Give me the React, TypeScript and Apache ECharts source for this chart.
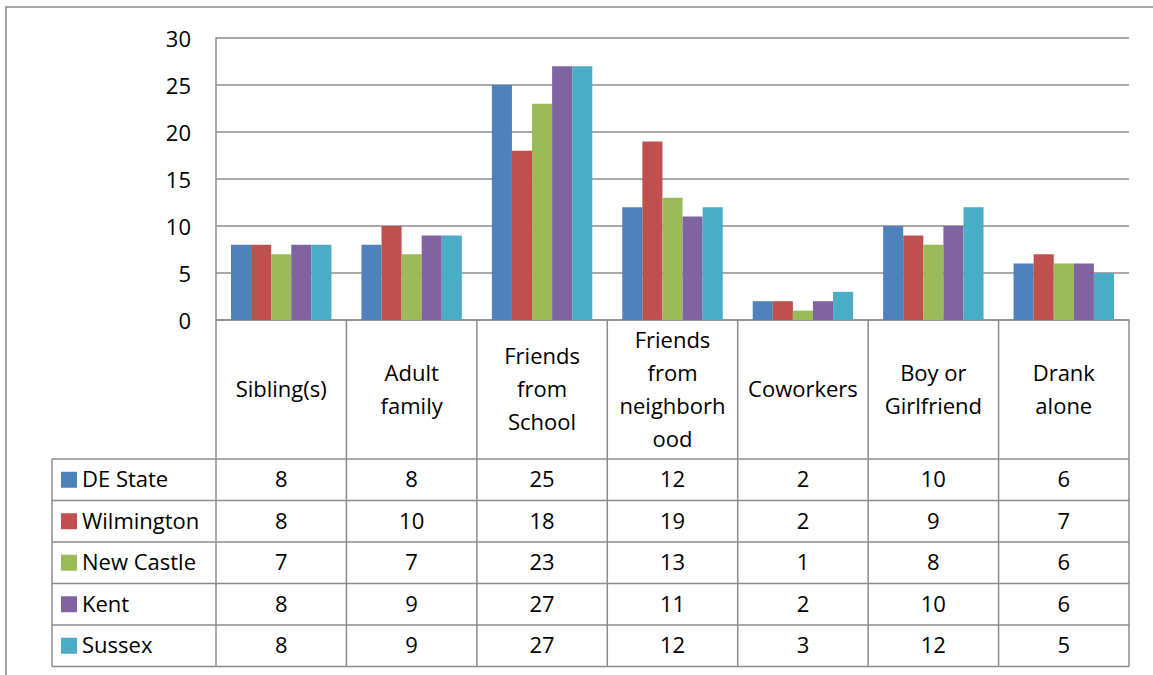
import React, { useEffect, useRef } from "react";
import * as echarts from "echarts";

const categoryLabels = [
  "Sibling(s)",
  "Adult\nfamily",
  "Friends\nfrom\nSchool",
  "Friends\nfrom\nneighborh\nood",
  "Coworkers",
  "Boy or\nGirlfriend",
  "Drank\nalone",
];
const seriesNames = ["DE State", "Wilmington", "New Castle", "Kent", "Sussex"];
const seriesColors = ["#4F81BD", "#C0504D", "#9BBB59", "#8064A2", "#4BACC6"];
const deState = [8, 8, 25, 12, 2, 10, 6];
const wilmington = [8, 10, 18, 19, 2, 9, 7];
const newCastle = [7, 7, 23, 13, 1, 8, 6];
const kent = [8, 9, 27, 11, 2, 10, 6];
const sussex = [8, 9, 27, 12, 3, 12, 5];
const seriesValues = [deState, wilmington, newCastle, kent, sussex];
const yMin = 0;
const yMax = 30;
const yInterval = 5;

const FONT = '"Open Sans", "Noto Sans", sans-serif';
const FS = 22;
const LINE = "#8c8c8c";

export default function App() {
  const ref = useRef<HTMLDivElement>(null);
  useEffect(() => {
    document.body.style.margin = "0";
    const chart = echarts.init(ref.current!, null, { renderer: "svg" });
    const grid = { left: 216, top: 38, width: 913, height: 282 };
    chart.setOption({
      animation: false,
      grid: { ...grid },
      xAxis: {
        type: "category",
        data: categoryLabels,
        axisLine: { show: true, lineStyle: { color: LINE, width: 1.5 } },
        axisTick: { show: false },
        axisLabel: { show: false },
      },
      yAxis: {
        type: "value",
        min: yMin,
        max: yMax,
        interval: yInterval,
        axisLine: { show: true, lineStyle: { color: LINE, width: 1.5 } },
        axisTick: { show: false },
        axisLabel: { color: "#000", fontSize: FS, fontFamily: FONT, margin: 25, padding: [0, 0, 2, 0] },
        splitLine: { lineStyle: { color: LINE, width: 1.5 } },
      },
      series: seriesNames.map((name, i) => ({
        name,
        type: "bar",
        data: seriesValues[i],
        barGap: "0%",
        barCategoryGap: "23%",
        itemStyle: { color: seriesColors[i] },
      })),
    });

    const n = categoryLabels.length;
    const colW = grid.width / n;
    const zeroY = chart.convertToPixel({ yAxisIndex: 0 }, 0) as number;
    const tableTop = 459;
    const rowH = 41.5;
    const tableBottom = tableTop + rowH * seriesNames.length;
    const tableLeft = 52;
    const right = grid.left + grid.width;
    const dy = -1.5;
    const els: any[] = [];
    const line = (x1: number, y1: number, x2: number, y2: number) =>
      els.push({
        type: "line",
        shape: { x1, y1, x2, y2 },
        style: { stroke: LINE, lineWidth: 1.5 },
        z: 10,
      });
    els.push({
      type: "rect",
      shape: { x: 6, y: 7, width: 1300, height: 800 },
      style: { fill: "none", stroke: LINE, lineWidth: 1.5 },
    });
    for (let c = 0; c <= n; c++) {
      const x = grid.left + c * colW;
      line(x, zeroY, x, tableBottom);
    }
    line(tableLeft, tableTop, tableLeft, tableBottom);
    for (let r = 0; r <= seriesNames.length; r++) {
      const y = tableTop + r * rowH;
      line(tableLeft, y, right, y);
    }
    const labelMid = (zeroY + tableTop) / 2 + dy;
    categoryLabels.forEach((lab, c) => {
      const cx = chart.convertToPixel({ xAxisIndex: 0 }, c) as number;
      els.push({
        type: "text",
        x: cx,
        y: labelMid,
        style: {
          text: lab,
          textAlign: "center",
          textVerticalAlign: "middle",
          font: `${FS}px ${FONT}`,
          lineHeight: 33,
          fill: "#000",
        },
      });
      seriesValues.forEach((vals, r) => {
        els.push({
          type: "text",
          x: cx,
          y: tableTop + rowH * (r + 0.5) + dy,
          style: {
            text: String(vals[c]),
            textAlign: "center",
            textVerticalAlign: "middle",
            font: `${FS}px ${FONT}`,
            fill: "#000",
          },
        });
      });
    });
    seriesNames.forEach((name, r) => {
      const cy = tableTop + rowH * (r + 0.5);
      els.push({
        type: "rect",
        shape: { x: 61, y: cy - 8, width: 16, height: 16 },
        style: { fill: seriesColors[r] },
      });
      els.push({
        type: "text",
        x: 82,
        y: cy + dy,
        style: {
          text: name,
          textAlign: "left",
          textVerticalAlign: "middle",
          font: `${FS}px ${FONT}`,
          fill: "#000",
        },
      });
    });
    chart.setOption({ graphic: { elements: els } });
    return () => chart.dispose();
  }, []);
  return <div ref={ref} style={{ width: 1153, height: 675, background: "#fff" }} />;
}
